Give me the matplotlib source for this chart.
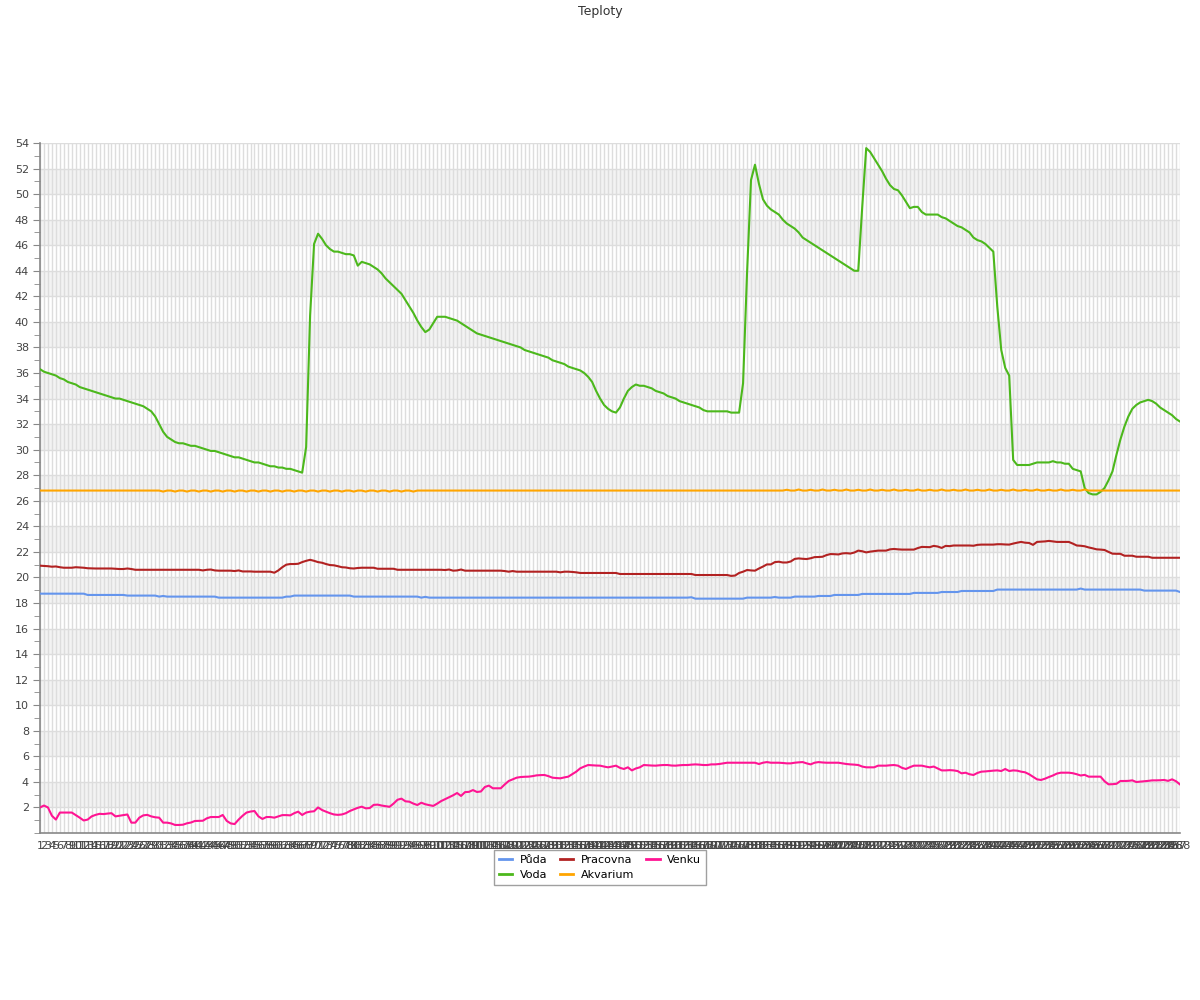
import matplotlib
matplotlib.use("Agg")
import matplotlib.pyplot as plt
from matplotlib.ticker import MultipleLocator

# ------------------------------------------------------------------
# Data (288 samples)
# ------------------------------------------------------------------

puda = (
    [18.73] * 12 + [18.63] * 10 + [18.58] * 8 + [18.5, 18.55] + [18.5] * 13
    + [18.42] * 17 + [18.5] * 2 + [18.58] * 15 + [18.5] * 17 + [18.42, 18.48]
    + [18.42] * 66 + [18.45] + [18.34] * 13 + [18.42] * 7 + [18.47]
    + [18.42] * 4 + [18.5] * 6 + [18.55] * 4 + [18.63] * 7 + [18.71] * 13
    + [18.79] * 7 + [18.86] * 5 + [18.94] * 9 + [19.05] * 21 + [19.13]
    + [19.05] * 15 + [18.97] * 9 + [18.86]
)

voda = [
    36.3, 36.1, 36.0, 35.9, 35.8, 35.6, 35.5, 35.3, 35.2, 35.1,
    34.9, 34.8, 34.7, 34.6, 34.5, 34.4, 34.3, 34.2, 34.1, 34.0,
    34.0, 33.9, 33.8, 33.7, 33.6, 33.5, 33.4, 33.2, 33.0, 32.6,
    32.0, 31.4, 31.0, 30.8, 30.6, 30.5, 30.5, 30.4, 30.3, 30.3,
    30.2, 30.1, 30.0, 29.9, 29.9, 29.8, 29.7, 29.6, 29.5, 29.4,
    29.4, 29.3, 29.2, 29.1, 29.0, 29.0, 28.9, 28.8, 28.7, 28.7,
    28.6, 28.6, 28.5, 28.5, 28.4, 28.3, 28.2, 30.2, 40.5, 46.1,
    46.9, 46.5, 46.0, 45.7, 45.5, 45.5, 45.4, 45.3, 45.3, 45.2,
    44.4, 44.7, 44.6, 44.5, 44.3, 44.1, 43.8, 43.4, 43.1, 42.8,
    42.5, 42.2, 41.7, 41.2, 40.7, 40.1, 39.6, 39.2, 39.4, 39.9,
    40.4, 40.4, 40.4, 40.3, 40.2, 40.1, 39.9, 39.7, 39.5, 39.3,
    39.1, 39.0, 38.9, 38.8, 38.7, 38.6, 38.5, 38.4, 38.3, 38.2,
    38.1, 38.0, 37.8, 37.7, 37.6, 37.5, 37.4, 37.3, 37.2, 37.0,
    36.9, 36.8, 36.7, 36.5, 36.4, 36.3, 36.2, 36.0, 35.7, 35.3,
    34.6, 34.0, 33.5, 33.2, 33.0, 32.9, 33.3, 34.0, 34.6, 34.9,
    35.1, 35.0, 35.0, 34.9, 34.8, 34.6, 34.5, 34.4, 34.2, 34.1,
    34.0, 33.8, 33.7, 33.6, 33.5, 33.4, 33.3, 33.1, 33.0, 33.0,
    33.0, 33.0, 33.0, 33.0, 32.9, 32.9, 32.9, 35.2, 43.8, 51.1,
    52.3, 50.8, 49.6, 49.1, 48.8, 48.6, 48.4, 48.0, 47.7, 47.5,
    47.3, 47.0, 46.6, 46.4, 46.2, 46.0, 45.8, 45.6, 45.4, 45.2,
    45.0, 44.8, 44.6, 44.4, 44.2, 44.0, 44.0, 49.0, 53.6, 53.3,
    52.8, 52.3, 51.8, 51.2, 50.7, 50.4, 50.3, 49.9, 49.4, 48.9,
    49.0, 49.0, 48.6, 48.4, 48.4, 48.4, 48.4, 48.2, 48.1, 47.9,
    47.7, 47.5, 47.4, 47.2, 47.0, 46.6, 46.4, 46.3, 46.1, 45.8,
    45.5, 41.2, 37.8, 36.4, 35.8, 29.2, 28.8, 28.8, 28.8, 28.8,
    28.9, 29.0, 29.0, 29.0, 29.0, 29.1, 29.0, 29.0, 28.9, 28.9,
    28.5, 28.4, 28.3, 27.0, 26.6, 26.5, 26.5, 26.7, 27.0, 27.6,
    28.3, 29.6, 30.8, 31.8, 32.6, 33.2, 33.5, 33.7, 33.8, 33.9,
    33.8, 33.6, 33.3, 33.1, 32.9, 32.7, 32.4, 32.2,
]

pracovna = (
    [20.92, 20.9, 20.88, 20.84, 20.86, 20.8, 20.76, 20.76, 20.76, 20.8,
     20.78, 20.76, 20.72, 20.71, 20.7, 20.7, 20.7, 20.7, 20.7, 20.68,
     20.66, 20.66, 20.7, 20.66]
    + [20.6] * 17
    + [20.55, 20.6, 20.62, 20.55, 20.53, 20.53, 20.53, 20.53, 20.5, 20.55,
       20.47, 20.47, 20.47, 20.45, 20.45, 20.45, 20.45, 20.45, 20.37, 20.55,
       20.8, 21.0, 21.05, 21.05, 21.07, 21.2, 21.3, 21.38, 21.3, 21.2,
       21.15, 21.05, 20.97, 20.95, 20.88, 20.8, 20.78, 20.72, 20.7, 20.74,
       20.76, 20.76, 20.76, 20.76, 20.68, 20.68, 20.68, 20.68, 20.68]
    + [20.6] * 12
    + [20.58, 20.62, 20.53, 20.55, 20.62]
    + [20.53] * 10
    + [20.5, 20.45, 20.5]
    + [20.45] * 11
    + [20.4, 20.45, 20.45, 20.43, 20.4]
    + [20.35] * 10
    + [20.27] * 19
    + [20.19] * 9
    + [20.12, 20.15, 20.35, 20.45, 20.58, 20.55, 20.53, 20.7, 20.85, 21.02,
       21.02, 21.2, 21.23, 21.17, 21.17, 21.25, 21.45, 21.49, 21.46, 21.44,
       21.5, 21.59, 21.6, 21.62, 21.75, 21.83, 21.82, 21.8, 21.88, 21.9,
       21.87, 21.95, 22.1, 22.05, 21.96, 22.02, 22.06, 22.1, 22.1, 22.1,
       22.2, 22.23, 22.2, 22.18, 22.18, 22.18, 22.18, 22.3, 22.39, 22.38,
       22.37, 22.47, 22.42, 22.31, 22.47, 22.45, 22.5, 22.5, 22.5, 22.5,
       22.5, 22.48, 22.55, 22.57, 22.57, 22.57, 22.57, 22.6, 22.6, 22.58,
       22.57, 22.65, 22.72, 22.78, 22.72, 22.7, 22.55, 22.78, 22.8, 22.82,
       22.86, 22.82, 22.78, 22.78, 22.78, 22.78, 22.65, 22.5, 22.48, 22.44,
       22.35, 22.28, 22.2, 22.18, 22.15, 22.0, 21.86, 21.85, 21.85, 21.7,
       21.7, 21.7, 21.62, 21.62, 21.62, 21.62]
    + [21.54] * 8
)

akvarium = (
    [26.8] * 30
    + [26.8, 26.72, 26.8, 26.8, 26.72, 26.8] * 11
    + [26.8] * 91
    + [26.8, 26.86, 26.8, 26.8, 26.88, 26.8] * 13
    + [26.8] * 23
)

venku = [
    2.0, 2.15, 2.0, 1.35, 1.05, 1.6, 1.6, 1.6, 1.6, 1.4,
    1.2, 0.98, 1.05, 1.3, 1.42, 1.5, 1.48, 1.52, 1.55, 1.3,
    1.35, 1.4, 1.45, 0.81, 0.81, 1.2, 1.38, 1.42, 1.3, 1.23,
    1.2, 0.81, 0.81, 0.75, 0.63, 0.63, 0.65, 0.76, 0.82, 0.94,
    0.95, 0.96, 1.15, 1.25, 1.25, 1.25, 1.41, 0.95, 0.75, 0.7,
    1.05, 1.35, 1.6, 1.68, 1.72, 1.3, 1.1, 1.25, 1.25, 1.2,
    1.3, 1.4, 1.4, 1.38, 1.55, 1.67, 1.41, 1.6, 1.67, 1.7,
    2.0, 1.8, 1.67, 1.55, 1.45, 1.42, 1.45, 1.55, 1.72, 1.85,
    1.97, 2.06, 1.93, 1.95, 2.2, 2.22, 2.15, 2.1, 2.05, 2.3,
    2.6, 2.69, 2.48, 2.45, 2.3, 2.19, 2.37, 2.25, 2.18, 2.12,
    2.3, 2.5, 2.65, 2.8, 2.95, 3.13, 2.9, 3.2, 3.22, 3.36,
    3.21, 3.25, 3.6, 3.71, 3.5, 3.5, 3.5, 3.8, 4.07, 4.2,
    4.33, 4.38, 4.4, 4.41, 4.45, 4.51, 4.53, 4.54, 4.45, 4.33,
    4.3, 4.28, 4.35, 4.41, 4.6, 4.8, 5.06, 5.2, 5.32, 5.3,
    5.28, 5.27, 5.2, 5.14, 5.2, 5.27, 5.1, 5.01, 5.14, 4.9,
    5.05, 5.14, 5.32, 5.3, 5.28, 5.27, 5.3, 5.32, 5.32, 5.28,
    5.27, 5.3, 5.32, 5.32, 5.35, 5.37, 5.35, 5.32, 5.32, 5.37,
    5.37, 5.4, 5.45, 5.5, 5.5, 5.5, 5.5, 5.5, 5.5, 5.5,
    5.5, 5.4, 5.5, 5.55, 5.5, 5.5, 5.5, 5.48, 5.45, 5.45,
    5.5, 5.53, 5.55, 5.45, 5.37, 5.5, 5.55, 5.52, 5.5, 5.5,
    5.5, 5.5, 5.45, 5.4, 5.37, 5.35, 5.32, 5.2, 5.14, 5.14,
    5.14, 5.27, 5.27, 5.27, 5.3, 5.32, 5.27, 5.1, 5.01, 5.15,
    5.27, 5.27, 5.27, 5.2, 5.14, 5.2, 5.05, 4.9, 4.9, 4.92,
    4.9, 4.85, 4.67, 4.72, 4.6, 4.54, 4.7, 4.8, 4.82, 4.85,
    4.88, 4.9, 4.85, 5.01, 4.85, 4.9, 4.88, 4.8, 4.75, 4.6,
    4.4, 4.2, 4.15, 4.25, 4.38, 4.5, 4.65, 4.72, 4.72, 4.72,
    4.68, 4.6, 4.5, 4.55, 4.41, 4.41, 4.41, 4.41, 4.05, 3.81,
    3.82, 3.85, 4.07, 4.07, 4.08, 4.12, 3.99, 4.02, 4.05, 4.08,
    4.12, 4.12, 4.13, 4.15, 4.08, 4.2, 4.05, 3.8,
]

labels = [str(i + 1) for i in range(len(voda))]

series = [
    ("Půda", puda, "#6495ed"),
    ("Voda", voda, "#4cb81c"),
    ("Pracovna", pracovna, "#b22222"),
    ("Akvarium", akvarium, "#ffa500"),
    ("Venku", venku, "#ff1493"),
]

# ------------------------------------------------------------------
# Figure
# ------------------------------------------------------------------

fig = plt.figure(figsize=(12, 10), dpi=100)
ax = fig.add_axes([40 / 1200, 0.167, 1140 / 1200, 0.690])

x = list(range(len(voda)))

# alternating horizontal bands
for lo in range(2, 54, 4):
    ax.axhspan(lo, lo + 2, color="#f3f3f3", zorder=0, lw=0)

for name, vals, col in series:
    ax.plot(x, vals, color=col, lw=1.5, label=name, zorder=3)

ax.set_xlim(0, len(voda) - 1)
ax.set_ylim(0, 54)

ax.set_xticks(x)
ax.set_xticklabels(labels, fontsize=8, color="#444444")
ax.tick_params(axis="x", length=0, pad=6)

ax.yaxis.set_minor_locator(MultipleLocator(1))
ax.set_yticks([t for t in range(2, 55, 2)])
ax.tick_params(axis="y", which="major", length=5, color="#888888",
               labelsize=8, labelcolor="#444444", pad=3)
ax.tick_params(axis="y", which="minor", length=4, color="#888888")

ax.grid(True, which="major", color="#dddddd", lw=1, zorder=1)
ax.set_axisbelow(True)

for side in ("top", "right"):
    ax.spines[side].set_visible(False)
for side in ("left", "bottom"):
    ax.spines[side].set_color("#888888")
    ax.spines[side].set_linewidth(1.2)

fig.suptitle("Teploty", y=0.995, fontsize=9, color="#333333")

leg = fig.legend(
    loc="upper center",
    bbox_to_anchor=(0.5, 0.156),
    ncol=3,
    fontsize=8,
    frameon=True,
    fancybox=False,
    handlelength=1.2,
    handletextpad=0.7,
    columnspacing=1.1,
    labelspacing=0.45,
    borderpad=0.45,
)
leg.get_frame().set_edgecolor("#888888")
leg.get_frame().set_linewidth(1)
for line in leg.get_lines():
    line.set_linewidth(2)

fig.savefig("out.png", dpi=100)
